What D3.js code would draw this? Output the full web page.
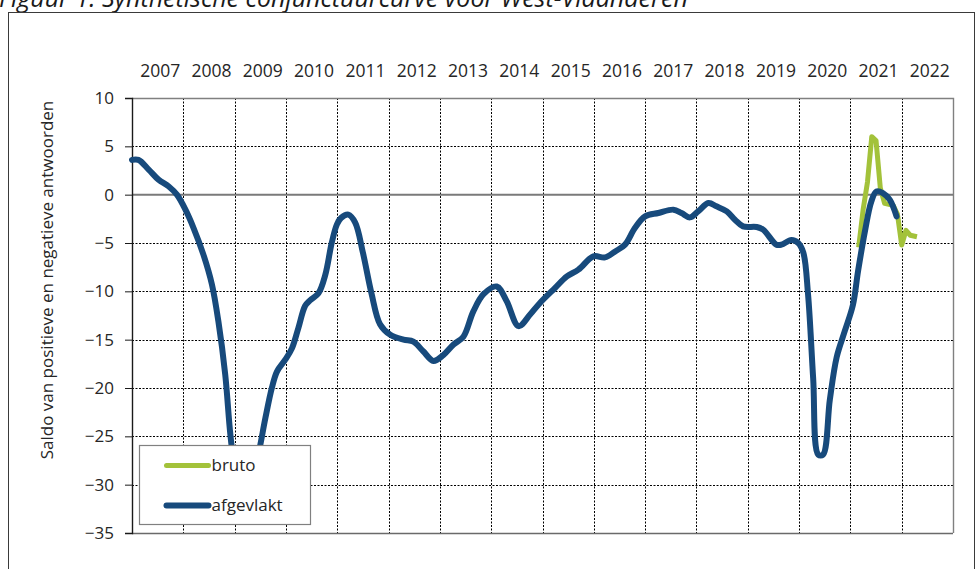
<!DOCTYPE html>
<html>
<head>
<meta charset="utf-8">
<script src="https://cdn.jsdelivr.net/npm/d3@7"></script>
<style>
  body { margin: 0; background: #fff; }
  svg text { font-family: "Open Sans", sans-serif; fill: #262626; }
</style>
</head>
<body>
<div id="chart"></div>
<script>
// Year categories on the top axis
const years = ["2007", "2008", "2009", "2010", "2011", "2012", "2013", "2014",
  "2015", "2016", "2017", "2018", "2019", "2020", "2021", "2022"];
const yTicks = [10, 5, 0, -5, -10, -15, -20, -25, -30, -35];

// afgevlakt: months since jan 2007, value
const afgevlaktMaand = [0, 1.5, 3.9, 6.2, 8.6, 10.5, 12.5, 14.4, 16.7, 18.7, 20.2, 21.8, 23,
  24.2, 25.5, 26.8, 28, 30, 31.2, 32.7, 33.9, 35.8, 37.4, 38.9, 40.5, 41.7, 43.6, 45.2,
  46.7, 47.9, 48.9, 50.6, 52.2, 54, 56, 58, 60.4, 63.5, 65.8, 68.1, 70.5, 72.8, 75.2,
  77.5, 79.8, 82.2, 85.3, 87.6, 90.4, 93.1, 95.4, 98.9, 101.7, 104.4, 107.9, 110.6, 113,
  115.3, 117.6, 120, 123.1, 126.6, 128.5, 130.5, 132.4, 134.8, 136.7, 139.1, 141, 142.9,
  146.1, 147.6, 150.7, 151.9, 154.2, 155.8, 157, 158.1, 159.3, 160.5, 161.6, 163.2,
  164.8, 166.7, 168.6, 169.8, 171.4, 172.9, 174.1, 175.6, 177.2, 178.8];
const afgevlaktWaarde = [3.6, 3.6, 2.6, 1.55, 0.85, 0, -1.55, -3.45, -6.2, -9.3, -13.1, -18.6, -24.8,
  -29, -31.5, -32, -30.3, -25.9, -23.1, -20, -18.3, -17.1, -15.9, -13.8, -11.5, -10.9, -10.2, -8.3,
  -5, -3.1, -2.4, -2.07, -2.9, -6, -10.2, -13.4, -14.5, -15, -15.2, -16.2, -17.2, -16.6, -15.5,
  -14.7, -12.1, -10.3, -9.5, -11, -13.6, -12.4, -11.2, -9.66, -8.45, -7.76, -6.38, -6.49, -5.87,
  -5.17, -3.45, -2.24, -1.9, -1.55, -1.9, -2.35, -1.73, -0.87, -1.21, -1.73, -2.59, -3.28,
  -3.35, -3.62, -5.17, -5.17, -4.7, -5, -6, -10.3, -19, -26.9, -26.9, -21.2,
  -16.8, -14.1, -11.4, -7.9, -3.8, -0.7, 0.34, 0.17, -0.52, -2.24];

// bruto: monthly raw values at the end of the series
const brutoMaand = [170, 171, 172, 173, 174, 175, 176, 177, 178, 179, 180, 181, 182, 183];
const brutoWaarde = [-5.2, -1.5, 1.3, 6.0, 5.6, 0.7, -0.9, -1.0, -1.1, -2.0, -5.2, -3.7, -4.2, -4.3];

const legendItems = [
  { label: "bruto", color: "#a3c23a", width: 5 },
  { label: "afgevlakt", color: "#174a7c", width: 6 },
];

const config = {
  width: 979,
  height: 569,
  margin: { top: 98, left: 132 },
  plotWidth: 821,
  plotHeight: 435,
};

const svg = d3.select("#chart").append("svg")
  .attr("width", config.width)
  .attr("height", config.height);

const plotW = config.plotWidth;
const plotH = config.plotHeight;
const plotLeft = config.margin.left;
const plotTop = config.margin.top;

// Scales
const xBand = d3.scaleBand().domain(years).range([plotLeft, plotLeft + plotW]);
const xMonth = d3.scaleLinear().domain([0, years.length * 12]).range([plotLeft, plotLeft + plotW]);
const y = d3.scaleLinear().domain([-35, 10]).range([plotTop + plotH, plotTop]);

// Title (only its lower half shows, as in the original crop)
svg.append("text")
  .attr("x", -1)
  .attr("y", 7)
  .attr("font-size", 25)
  .attr("font-style", "italic")
  .style("fill", "#1a1a1a")
  .text("Figuur 1: Synthetische conjunctuurcurve voor West-Vlaanderen");

// Outer frame
svg.append("rect")
  .attr("x", 8.5).attr("y", 12.5)
  .attr("width", 966).attr("height", 620)
  .attr("fill", "none")
  .attr("stroke", "#3a3a3a")
  .attr("stroke-width", 1);

// Horizontal gridlines
svg.append("g")
  .selectAll("line")
  .data(yTicks.filter((d) => d !== 10 && d !== 0 && d !== -35))
  .join("line")
  .attr("x1", plotLeft).attr("x2", plotLeft + plotW)
  .attr("y1", (d) => Math.round(y(d)) + 0.5)
  .attr("y2", (d) => Math.round(y(d)) + 0.5)
  .attr("stroke", "#000")
  .attr("stroke-width", 1)
  .attr("stroke-dasharray", "2,1.5");

// Vertical gridlines between the years
svg.append("g")
  .selectAll("line")
  .data(years.slice(1))
  .join("line")
  .attr("x1", (d) => Math.round(xBand(d)) + 0.5)
  .attr("x2", (d) => Math.round(xBand(d)) + 0.5)
  .attr("y1", plotTop).attr("y2", plotTop + plotH)
  .attr("stroke", "#000")
  .attr("stroke-width", 1)
  .attr("stroke-dasharray", "2,1.5");

// Plot area border (top and right)
svg.append("path")
  .attr("d", `M${plotLeft},${plotTop + 0.5}H${plotLeft + plotW + 0.5}V${plotTop + plotH}`)
  .attr("fill", "none")
  .attr("stroke", "#808080")
  .attr("stroke-width", 1.4);

// Zero line
svg.append("line")
  .attr("x1", plotLeft).attr("x2", plotLeft + plotW)
  .attr("y1", y(0)).attr("y2", y(0))
  .attr("stroke", "#7a7a7a")
  .attr("stroke-width", 2);

// Bottom axis line
svg.append("line")
  .attr("x1", plotLeft).attr("x2", plotLeft + plotW)
  .attr("y1", plotTop + plotH + 0.5).attr("y2", plotTop + plotH + 0.5)
  .attr("stroke", "#6a6a6a")
  .attr("stroke-width", 1.4);

// Y axis
const yAxis = d3.axisLeft(y).tickValues(yTicks).tickSize(7).tickPadding(11);
svg.append("g")
  .attr("transform", `translate(${plotLeft},0)`)
  .call(yAxis)
  .call((g) => g.select(".domain").attr("stroke", "#1a1a1a").attr("stroke-width", 1.4))
  .call((g) => g.selectAll(".tick line").attr("stroke", "#1a1a1a"))
  .call((g) => g.selectAll(".tick text")
    .attr("font-family", "Open Sans, sans-serif")
    .attr("font-size", 17)
    .style("fill", "#262626"));

// Year labels on top
svg.append("g")
  .selectAll("text")
  .data(years)
  .join("text")
  .attr("x", (d) => xBand(d) + xBand.bandwidth() / 2 + 2.5)
  .attr("y", 77)
  .attr("text-anchor", "middle")
  .attr("font-size", 17.5)
  .text((d) => d);

// Y axis title
svg.append("text")
  .attr("transform", "translate(53,280) rotate(-90)")
  .attr("text-anchor", "middle")
  .attr("font-size", 17)
  .text("Saldo van positieve en negatieve antwoorden");

// Lines
const brutoData = brutoMaand.map((m, i) => ({ m: m, v: brutoWaarde[i] }));
const afgevlaktData = afgevlaktMaand.map((m, i) => ({ m: m, v: afgevlaktWaarde[i] }));

const brutoLine = d3.line().x((d) => xMonth(d.m)).y((d) => y(d.v));
const smoothLine = d3.line()
  .x((d) => xMonth(d.m))
  .y((d) => y(d.v))
  .curve(d3.curveCatmullRom.alpha(0.5));

svg.append("path")
  .datum(brutoData)
  .attr("d", brutoLine)
  .attr("fill", "none")
  .attr("stroke", legendItems[0].color)
  .attr("stroke-width", legendItems[0].width)
  .attr("stroke-linejoin", "round")
  .attr("stroke-linecap", "square");

svg.append("path")
  .datum(afgevlaktData)
  .attr("d", smoothLine)
  .attr("fill", "none")
  .attr("stroke", legendItems[1].color)
  .attr("stroke-width", legendItems[1].width)
  .attr("stroke-linejoin", "round")
  .attr("stroke-linecap", "round");

// Legend
const legend = svg.append("g").attr("transform", "translate(139.5,445.5)");
legend.append("rect")
  .attr("width", 171)
  .attr("height", 79)
  .attr("fill", "#fff")
  .attr("stroke", "#808080")
  .attr("stroke-width", 1.2);

const legendRows = legend.selectAll("g")
  .data(legendItems)
  .join("g")
  .attr("transform", (d, i) => `translate(0,${20 + i * 40})`);

legendRows.append("line")
  .attr("x1", 27).attr("x2", 69)
  .attr("stroke", (d) => d.color)
  .attr("stroke-width", (d) => d.width)
  .attr("stroke-linecap", "round");

legendRows.append("text")
  .attr("x", 72)
  .attr("y", 5.5)
  .attr("font-size", 17)
  .text((d) => d.label);
</script>
</body>
</html>
